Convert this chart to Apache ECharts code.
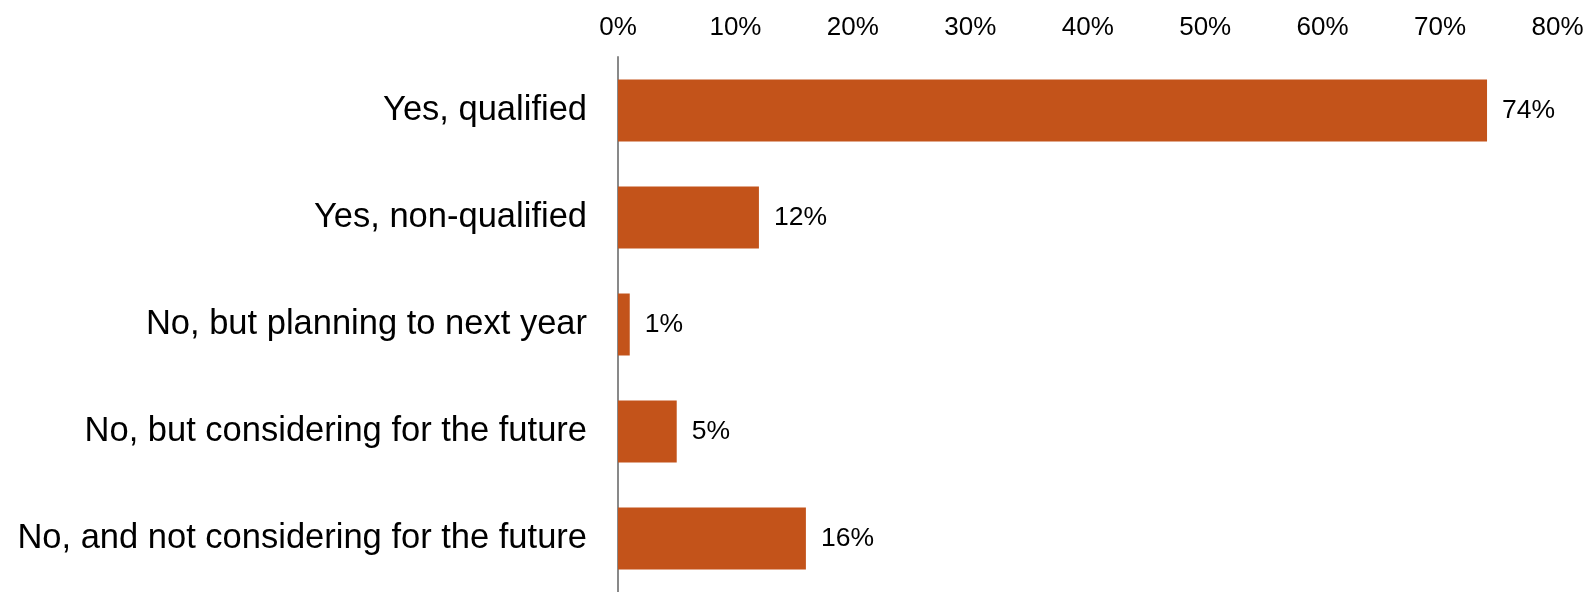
<!DOCTYPE html>
<html>
<head>
<meta charset="utf-8">
<title>Survey responses</title>
<script src="https://cdn.jsdelivr.net/npm/echarts@6/dist/echarts.min.js"></script>
<style>
  html, body { margin: 0; padding: 0; background: #ffffff; }
  #chart { width: 1592px; height: 592px; }
</style>
</head>
<body>
<div id="chart"></div>
<script>
// Response options, top to bottom
const categories = [
  'Yes, qualified',
  'Yes, non-qualified',
  'No, but planning to next year',
  'No, but considering for the future',
  'No, and not considering for the future'
];
// Share of respondents (%)
const shares = [74, 12, 1, 5, 16];
// Percentage scale
const axisMin = 0;
const axisMax = 80;
const axisStep = 10;

const FONT = '"Liberation Sans", Arial, Helvetica, sans-serif';

const chart = echarts.init(document.getElementById('chart'));
chart.setOption({
  backgroundColor: '#ffffff',
  animation: false,
  grid: { left: 618, right: 34.5, top: 57, bottom: -5.5, containLabel: false },
  xAxis: {
    type: 'value',
    position: 'top',
    min: axisMin,
    max: axisMax,
    interval: axisStep,
    axisLine: { show: false },
    axisTick: { show: false },
    splitLine: { show: false },
    axisLabel: {
      formatter: v => v + '%',
      color: '#000000',
      fontFamily: FONT,
      fontSize: 26,
      margin: 16
    }
  },
  yAxis: {
    type: 'category',
    data: categories,
    inverse: true,
    axisLine: { show: true, lineStyle: { color: '#898989', width: 2 } },
    axisTick: { show: false },
    axisLabel: {
      color: '#000000',
      fontFamily: FONT,
      fontSize: 34.5,
      margin: 31
    }
  },
  series: [{
    type: 'bar',
    data: shares,
    barWidth: 62,
    itemStyle: { color: '#C3531A' },
    label: {
      show: true,
      position: 'right',
      distance: 15,
      formatter: p => p.value + '%',
      color: '#000000',
      fontFamily: FONT,
      fontSize: 26.5
    }
  }]
});
</script>
</body>
</html>
